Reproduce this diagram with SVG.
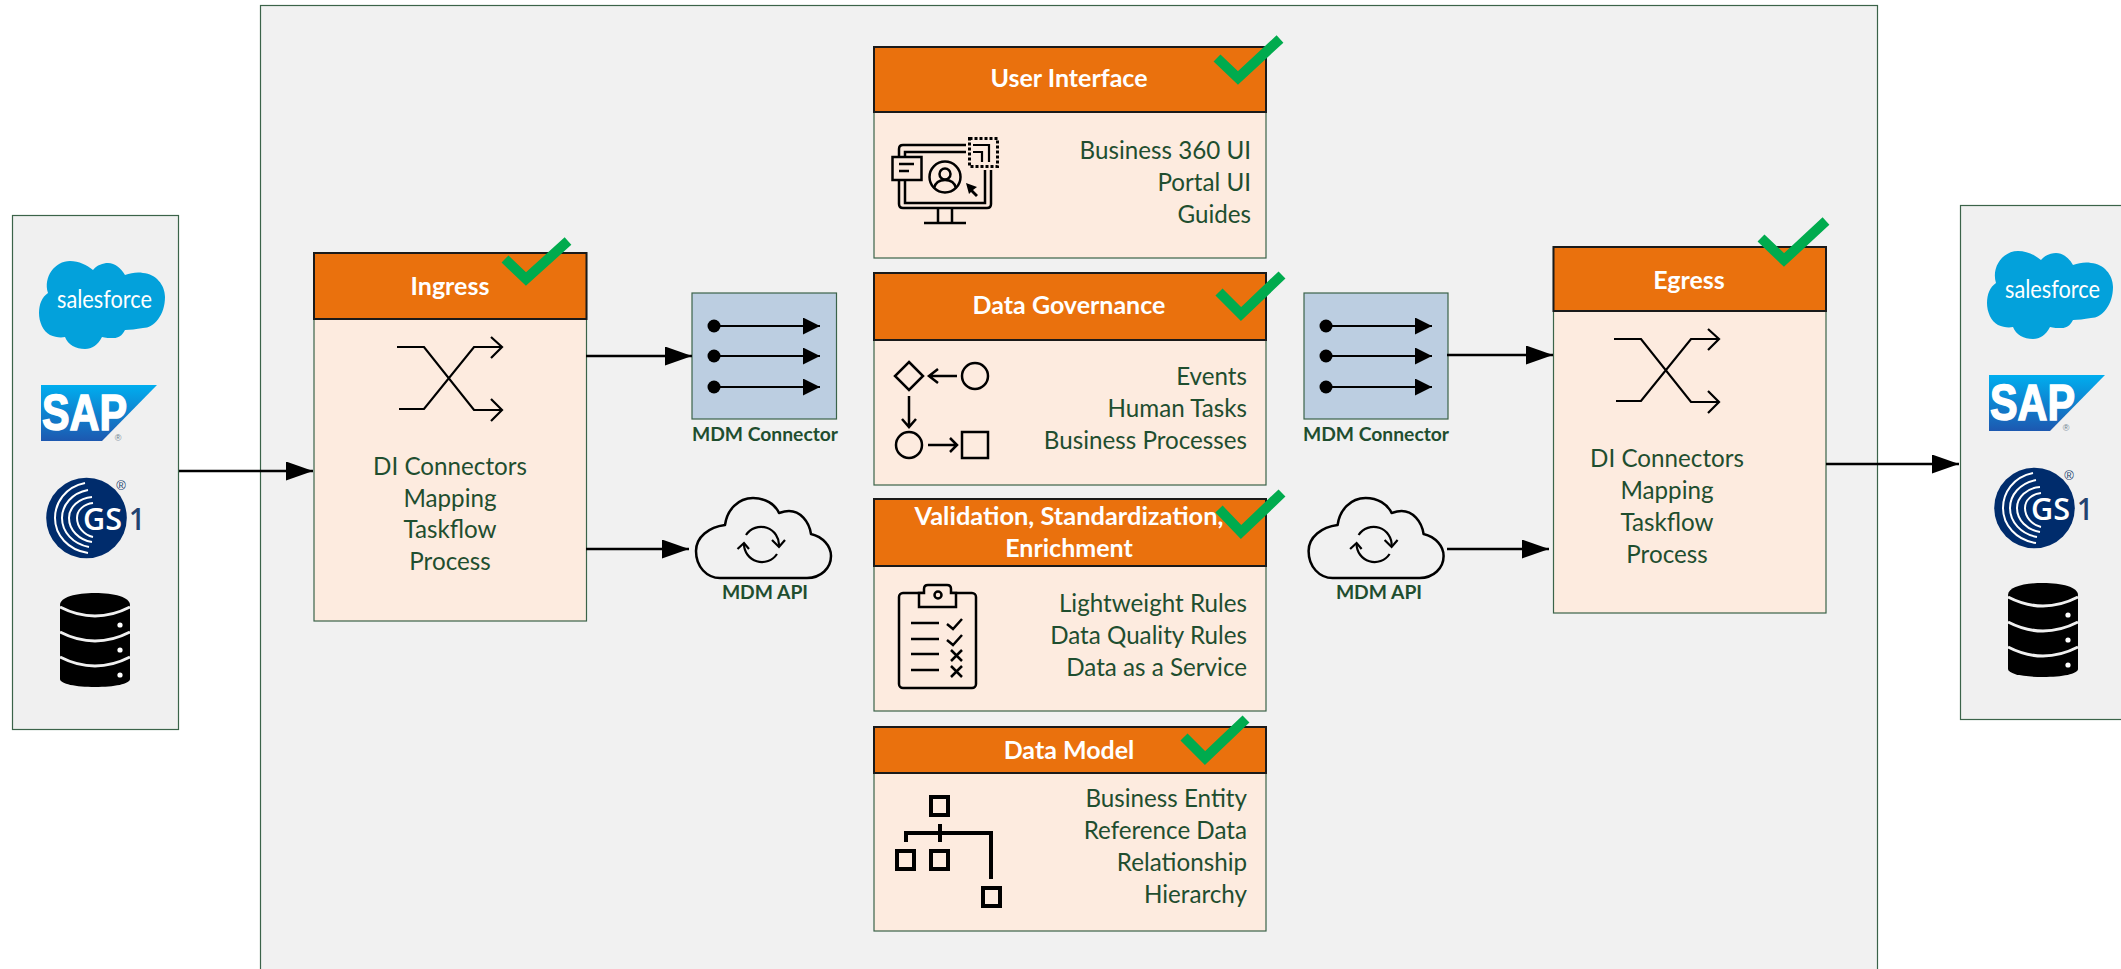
<svg xmlns="http://www.w3.org/2000/svg" width="2121" height="969" viewBox="0 0 2121 969">
<style>
.panel{fill:#f0f0f0;stroke:#3b6349;stroke-width:1.2}
.body{fill:#fdebdf;stroke:#3b6349;stroke-width:1.2}
.head{fill:#ea710d;stroke:#1a1a1a;stroke-width:2}
.conn{fill:#bccee1;stroke:#3b6349;stroke-width:1.2}
.ttl{font-family:"Lato","Liberation Sans",sans-serif;font-weight:700;font-size:25px;fill:#fff;text-anchor:middle}
.c{font-family:"Lato","Liberation Sans",sans-serif;font-size:24.200px;fill:#1f4e2f;text-anchor:middle}
.r{font-family:"Lato","Liberation Sans",sans-serif;font-size:24.200px;fill:#1f4e2f;text-anchor:end}
.lbl{font-family:"Lato","Liberation Sans",sans-serif;font-weight:700;font-size:19.300px;fill:#1f4e2f;text-anchor:middle}
.chk{fill:none;stroke:#00ab4e;stroke-width:10}
.ic{fill:none;stroke:#000;stroke-width:2.5}
.ln{fill:none;stroke:#000;stroke-width:2.2}
.wire{fill:none;stroke:#000;stroke-width:2.6;marker-end:url(#ah)}
.in{fill:none;stroke:#000;stroke-width:2.2;marker-end:url(#ahs)}
</style>
<defs>
<marker id="ah" markerUnits="userSpaceOnUse" markerWidth="28" markerHeight="20" refX="27" refY="9.5" orient="auto"><path d="M0 0L27 9.5L0 19z" fill="#000"/></marker>
<marker id="ahs" markerUnits="userSpaceOnUse" markerWidth="18" markerHeight="18" refX="17" refY="8.5" orient="auto"><path d="M0 0L17 8.5L0 17z" fill="#000"/></marker>
<linearGradient id="sapg" x1="0" y1="0" x2="0" y2="1"><stop offset="0" stop-color="#00aeef"/><stop offset="1" stop-color="#1d58b0"/></linearGradient>
<g id="cloud"><path d="M720 578H807C821 578 831 568 831 556C831 546 823 537 811 534C809 521 800 511 789 511C785 511 782 512 779 513C775 504 765 498 753 498C738 498 727 510 725 525C709 527 696 537 696 551C696 567 707 578 720 578Z" class="ic" stroke-linejoin="round"/>
<path d="M746 535A18 18 0 0 1 779 546M777 554A18 18 0 0 1 744 544" class="ln"/><path d="M772 540L779 547L785 540M737.500 549L744 543L749 549" class="ln"/></g>
<g id="shuffle"><path d="M397 347H424L474 410H502M491 399L502 410L491 421M399 409H424L474 347H502M491 337L502 347L491 358" fill="none" stroke="#000" stroke-width="2.2"/></g>
<g id="dots"><circle cx="714" cy="326" r="6.500"/><circle cx="714" cy="356" r="6.500"/><circle cx="714" cy="387" r="6.500"/>
<path d="M714 326H820" class="in"/><path d="M714 356H820" class="in"/><path d="M714 387H820" class="in"/></g>
<g id="logos">
<path d="M48 293C43 277 55 261 70 261C79 261 87 265 93 270C97 265 103 263 108 263C115 263 121 268 125 275C131 273 137 272 143 273C156 274 165 285 165 297C165 315 154 328 143 328C136 329 130 330 125 330C122 336 118 338 114 338C110 338 105 338 102 337C98 345 92 349 85 349C76 349 68 345 65 337C60 338 55 337 50 335C43 331 39 322 39 313C39 304 42 297 48 293Z" fill="#03a1db"/>
<text x="57" y="308" font-family="Lato,sans-serif" font-size="25" fill="#fff" textLength="95" lengthAdjust="spacingAndGlyphs">salesforce</text>
<polygon points="41,385 157,385 102,441 41,441" fill="url(#sapg)"/>
<text x="42" y="430" font-family="Liberation Sans,sans-serif" font-weight="700" font-size="50" fill="#fff" stroke="#fff" stroke-width="1.500" textLength="85" lengthAdjust="spacingAndGlyphs">SAP</text>
<text x="118" y="441" font-family="Liberation Sans,sans-serif" font-size="9" fill="#6f7f90" text-anchor="middle">®</text>
<circle cx="86.500" cy="518" r="40.300" fill="#002c6c"/>
<g fill="none" stroke="#fff" stroke-width="2"><path d="M85 483C65 487 55 503 55 518C55 535 68 550 88 553"/><path d="M88 490C72 493 62 505 62 518C62 532 73 544 89 547"/><path d="M92 497C79 498 69 507 69 518C69 530 79 540 92 542"/><path d="M93 503C84 504 77 510 77 518C77 527 84 535 93 537"/></g>
<text x="83" y="530" font-family="Open Sans,sans-serif" font-weight="600" font-size="30" fill="#fff" textLength="39" lengthAdjust="spacingAndGlyphs">GS</text>
<text x="129" y="530" font-family="Open Sans,sans-serif" font-weight="600" font-size="30" fill="#22426f" textLength="16" lengthAdjust="spacingAndGlyphs">1</text>
<text x="121" y="490" font-family="Liberation Sans,sans-serif" font-size="13" fill="#22426f" text-anchor="middle">®</text>
<path d="M60 605C60 597 76 593 95 593C114 593 130 597 130 605V679C130 684 114 687 95 687C76 687 60 684 60 679Z" fill="#000"/>
<path d="M60 607Q95 625 130 607M60 632Q95 650 130 632M60 657Q95 675 130 657" fill="none" stroke="#f0f0f0" stroke-width="3"/>
<circle cx="120" cy="625" r="2.600" fill="#fff"/><circle cx="120" cy="650" r="2.600" fill="#fff"/><circle cx="120" cy="675" r="2.600" fill="#fff"/>
</g>
</defs>
<g id="main"><rect class="panel" x="260.500" y="5.500" width="1617" height="1000" style="fill:#f1f1f1"/></g>
<g id="sources"><rect class="panel" x="12.500" y="215.500" width="166" height="514"/><use href="#logos"/></g>
<g id="targets"><rect class="panel" x="1960.500" y="205.500" width="200" height="514"/><use href="#logos" transform="translate(1948 -10)"/></g>

<g id="ingress"><rect class="body" x="314" y="253" width="272.500" height="368"/><rect class="head" x="314" y="253" width="272.500" height="66"/>
<text class="ttl" x="450" y="295">Ingress</text><use href="#shuffle"/>
<text class="c" x="450" y="475">DI Connectors</text><text class="c" x="450" y="507">Mapping</text><text class="c" x="450" y="538">Taskflow</text><text class="c" x="450" y="570">Process</text>
<path class="chk" d="M505 259L526 279L568 241"/></g>

<g id="conn-in"><rect class="conn" x="692" y="293" width="144.500" height="126"/><use href="#dots"/><text class="lbl" x="765" y="441">MDM Connector</text></g>
<g id="api-in"><use href="#cloud"/><text class="lbl" x="765" y="599">MDM API</text></g>

<g id="ui"><rect class="body" x="874" y="47" width="392" height="211"/><rect class="head" x="874" y="47" width="392" height="65"/>
<text class="ttl" x="1069" y="87">User Interface</text>
<text class="r" x="1251" y="159">Business 360 UI</text><text class="r" x="1251" y="191">Portal UI</text><text class="r" x="1251" y="223">Guides</text>
<g class="ic"><path d="M899 157V149Q899 145 903 145H966M899 180V204Q899 208 903 208H987Q991 208 991 204V170M905 180V203H985V170M905 157V152H966"/><path d="M938 208V223M952 208V223M924 223H966"/><rect x="892.500" y="157" width="29" height="23"/><path d="M899 164H914M899 171H909"/><circle cx="945" cy="177" r="15.500"/><circle cx="945" cy="174" r="5.500"/><path d="M934 188Q936 180 945 180Q954 180 956 188"/></g>
<polygon points="966,183 977,187 973,190 978,195 976,197 971,192 969,194" fill="#000"/>
<rect x="969.500" y="138.500" width="28" height="28" fill="none" stroke="#000" stroke-width="3" stroke-dasharray="3 2"/><path d="M973 145H989V162M973 152H982V162" fill="none" stroke="#000" stroke-width="2.200"/>
<path class="chk" d="M1217 58L1238 78L1280 39"/></g>

<g id="governance"><rect class="body" x="874" y="273" width="392" height="212"/><rect class="head" x="874" y="273" width="392" height="67"/>
<text class="ttl" x="1069" y="314">Data Governance</text>
<text class="r" x="1247" y="385">Events</text><text class="r" x="1247" y="417">Human Tasks</text><text class="r" x="1247" y="449">Business Processes</text>
<g class="ic"><path d="M909 362L923 376L909 390L895 376Z"/><circle cx="975" cy="376" r="13"/><path d="M957 376H929M938 369L929 376L938 383"/><path d="M909 396V427M902 419L909 427L916 419"/><circle cx="909" cy="445" r="13"/><path d="M928 445H957M950 438L957 445L950 452"/><rect x="962" y="432" width="26" height="26"/></g>
<path class="chk" d="M1219 292L1241 314L1282 275"/></g>

<g id="validation"><rect class="body" x="874" y="499" width="392" height="212"/><rect class="head" x="874" y="499" width="392" height="67"/>
<text class="ttl" x="1069" y="525" textLength="309" lengthAdjust="spacingAndGlyphs">Validation, Standardization,</text><text class="ttl" x="1069" y="557">Enrichment</text>
<text class="r" x="1247" y="612">Lightweight Rules</text><text class="r" x="1247" y="644">Data Quality Rules</text><text class="r" x="1247" y="676">Data as a Service</text>
<g class="ic"><rect x="899" y="593" width="77" height="95" rx="4"/><path d="M919 607V593H924V589Q924 585 928 585H947Q951 585 951 589V593H956V607Z" fill="#fdebdf"/><circle cx="938" cy="595" r="3.500"/><path d="M911 623H939M911 639H939M911 654H939M911 670H939"/><path d="M947 624L953 629L962 619M947 640L953 645L962 635M951 650L962 661M962 650L951 661M951 666L962 677M962 666L951 677"/></g>
<path class="chk" d="M1219 509L1241 532L1282 493"/></g>

<g id="model"><rect class="body" x="874" y="727" width="392" height="204"/><rect class="head" x="874" y="727" width="392" height="46"/>
<text class="ttl" x="1069" y="759">Data Model</text>
<text class="r" x="1247" y="807">Business Entity</text><text class="r" x="1247" y="839">Reference Data</text><text class="r" x="1247" y="871">Relationship</text><text class="r" x="1247" y="903">Hierarchy</text>
<g fill="none" stroke="#000" stroke-width="4"><rect x="931" y="797" width="17" height="18"/><rect x="897" y="851" width="17" height="18"/><rect x="931" y="851" width="17" height="18"/><rect x="983" y="888" width="17" height="18"/><path d="M906 842V833H991V879M940 824V842"/></g>
<path class="chk" d="M1184 737L1205 758L1246 719"/></g>

<g id="conn-out"><rect class="conn" x="1304" y="293" width="144" height="126"/><use href="#dots" transform="translate(612 0)"/><text class="lbl" x="1376" y="441">MDM Connector</text></g>
<g id="api-out"><use href="#cloud" transform="translate(612.600 0)"/><text class="lbl" x="1379" y="599">MDM API</text></g>

<g id="egress"><rect class="body" x="1553.500" y="247" width="272.500" height="366"/><rect class="head" x="1553.500" y="247" width="272.500" height="64"/>
<text class="ttl" x="1689" y="289">Egress</text><use href="#shuffle" transform="translate(1217 -8)"/>
<text class="c" x="1667" y="467">DI Connectors</text><text class="c" x="1667" y="499">Mapping</text><text class="c" x="1667" y="531">Taskflow</text><text class="c" x="1667" y="563">Process</text>
<path class="chk" d="M1761 238L1784 260L1826 221"/></g>

<g id="connectors">
<path class="wire" d="M179 471H313"/><path class="wire" d="M586 356H692"/><path class="wire" d="M586 549H689"/><path class="wire" d="M1447 355H1553"/><path class="wire" d="M1447 549H1549"/><path class="wire" d="M1826 464H1959"/>
</g>
</svg>
